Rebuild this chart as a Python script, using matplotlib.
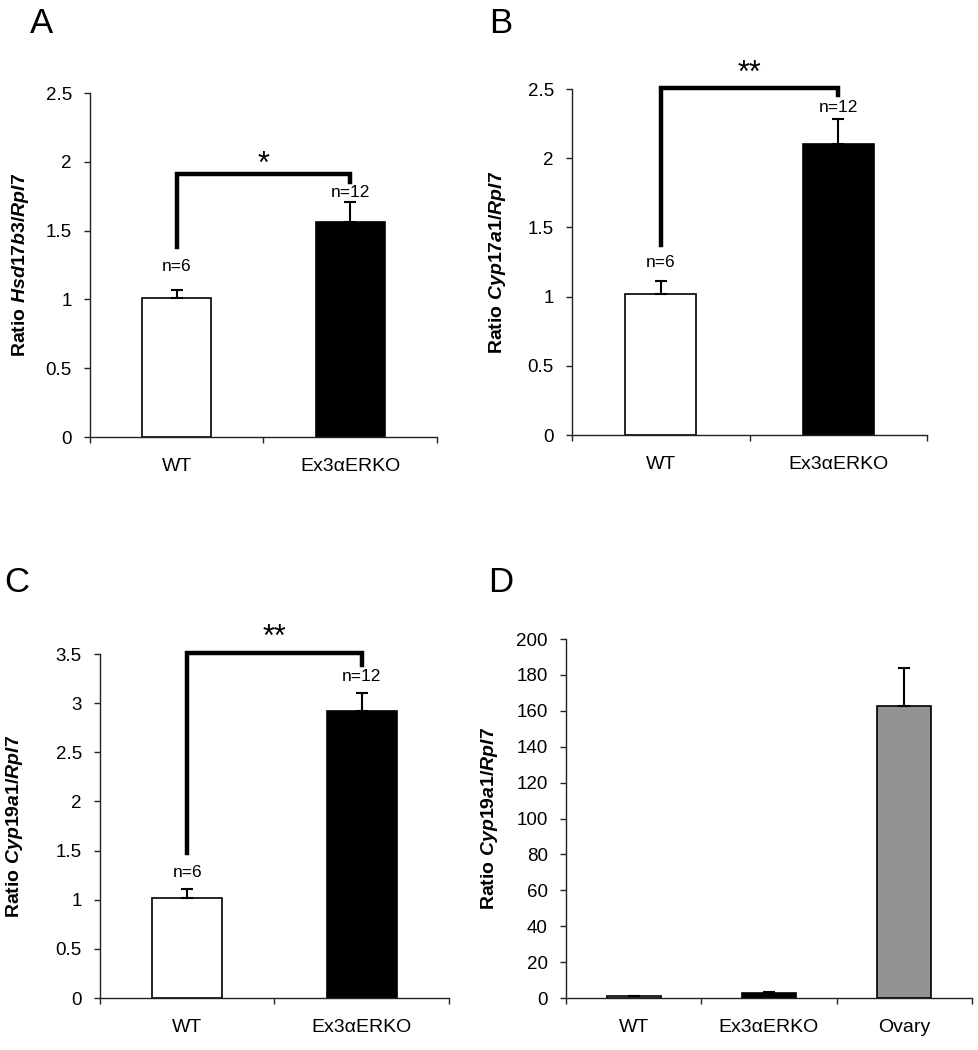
import matplotlib
matplotlib.use('Agg')
import matplotlib.pyplot as plt
from matplotlib.ticker import FixedLocator, NullFormatter

plt.rcParams['font.family'] = ['Liberation Sans', 'DejaVu Sans']
plt.rcParams['mathtext.fontset'] = 'custom'
plt.rcParams['mathtext.it'] = 'Liberation Sans:italic:bold'
plt.rcParams['mathtext.rm'] = 'Liberation Sans:bold'

#data
groups_2 = ['WT', 'Ex3\u03b1ERKO']
groups_3 = ['WT', 'Ex3\u03b1ERKO', 'Ovary']

a_vals = [1.01, 1.56]
a_errs = [0.06, 0.15]
a_n = ['n=6', 'n=12']

b_vals = [1.02, 2.10]
b_errs = [0.095, 0.18]
b_n = ['n=6', 'n=12']

c_vals = [1.02, 2.92]
c_errs = [0.09, 0.18]
c_n = ['n=6', 'n=12']

d_vals = [1.0, 3.0, 162.5]
d_errs = [0.3, 0.5, 21.5]

ab_ticks = [0, 0.5, 1, 1.5, 2, 2.5]
ab_ticklabels = ['0', '0.5', '1', '1.5', '2', '2.5']
c_ticks = [0, 0.5, 1, 1.5, 2, 2.5, 3, 3.5]
c_ticklabels = ['0', '0.5', '1', '1.5', '2', '2.5', '3', '3.5']
d_ticks = list(range(0, 201, 20))
d_ticklabels = [str(t) for t in d_ticks]

colors_2 = ['white', 'black']
colors_3 = ['white', 'black', '#939393']


def bar_panel(ax, groups, vals, errs, colors, ticks, ticklabels, ylabel, labcoord):
    x = list(range(len(groups)))
    ax.bar(x, vals, width=0.4, color=colors, edgecolor='black', linewidth=1.2, zorder=2)
    ax.errorbar(x, vals, yerr=[[0] * len(errs), errs], fmt='none', ecolor='black',
                elinewidth=1.5, capsize=4, capthick=1.5, zorder=3)
    ax.set_xlim(-0.5, len(groups) - 0.5)
    ax.set_ylim(ticks[0], ticks[-1])
    ax.set_yticks(ticks)
    ax.set_yticklabels(ticklabels, fontsize=13.5)
    ax.xaxis.set_major_locator(FixedLocator([i - 0.5 for i in range(len(groups) + 1)]))
    ax.xaxis.set_major_formatter(NullFormatter())
    ax.xaxis.set_minor_locator(FixedLocator(x))
    ax.set_xticklabels(groups, minor=True, fontsize=14)
    ax.tick_params(axis='x', which='minor', length=0, pad=15)
    ax.tick_params(axis='both', which='major', length=4, width=1, color='#222222', pad=9)
    for s in ['top', 'right']:
        ax.spines[s].set_visible(False)
    for s in ['left', 'bottom']:
        ax.spines[s].set_linewidth(1)
        ax.spines[s].set_color('#222222')
    ax.set_ylabel(ylabel, fontsize=14, fontweight='bold')
    ax.yaxis.set_label_coords(labcoord, 0.5)


def bracket(ax, y_low, y_top, y_right, star, y_star, n_labels, n_y):
    ax.plot([0, 0, 1, 1], [y_low, y_top, y_top, y_right], color='black', lw=3.2,
            solid_joinstyle='miter', clip_on=False, zorder=4)
    ax.text(0.5, y_star, star, ha='center', va='center', fontsize=22, clip_on=False)
    for i in range(2):
        ax.text(i, n_y[i], n_labels[i], ha='center', va='center', fontsize=12.5)


fig = plt.figure(figsize=(9.79, 10.5), dpi=100)

ax_a = fig.add_axes([0.0919, 0.5838, 0.3545, 0.3276])
bar_panel(ax_a, groups_2, a_vals, a_errs, colors_2, ab_ticks, ab_ticklabels,
          r'Ratio $\mathit{Hsd17b3/Rpl7}$', -0.17)
bracket(ax_a, 1.38, 1.91, 1.85, '*', 1.98, a_n, [1.24, 1.78])

ax_b = fig.add_axes([0.5843, 0.5857, 0.3626, 0.3295])
bar_panel(ax_b, groups_2, b_vals, b_errs, colors_2, ab_ticks, ab_ticklabels,
          r'Ratio $\mathit{Cyp17a1/Rpl7}$', -0.18)
bracket(ax_b, 1.37, 2.51, 2.46, '**', 2.61, b_n, [1.25, 2.37])

ax_c = fig.add_axes([0.1021, 0.0495, 0.3565, 0.3276])
bar_panel(ax_c, groups_2, c_vals, c_errs, colors_2, c_ticks, c_ticklabels,
          r'Ratio $\mathit{Cyp19a1/Rpl7}$', -0.215)
bracket(ax_c, 1.475, 3.51, 3.39, '**', 3.66, c_n, [1.28, 3.27])

ax_d = fig.add_axes([0.5781, 0.0495, 0.4147, 0.3419])
bar_panel(ax_d, groups_3, d_vals, d_errs, colors_3, d_ticks, d_ticklabels,
          r'Ratio $\mathit{Cyp19a1/Rpl7}$', -0.163)

#panel letters
fig.text(0.031, 0.9686, 'A', fontsize=25, va='baseline')
fig.text(0.500, 0.9686, 'B', fontsize=25, va='baseline')
fig.text(0.004, 0.436, 'C', fontsize=25, va='baseline')
fig.text(0.499, 0.436, 'D', fontsize=25, va='baseline')

plt.savefig('out.png', dpi=100)
